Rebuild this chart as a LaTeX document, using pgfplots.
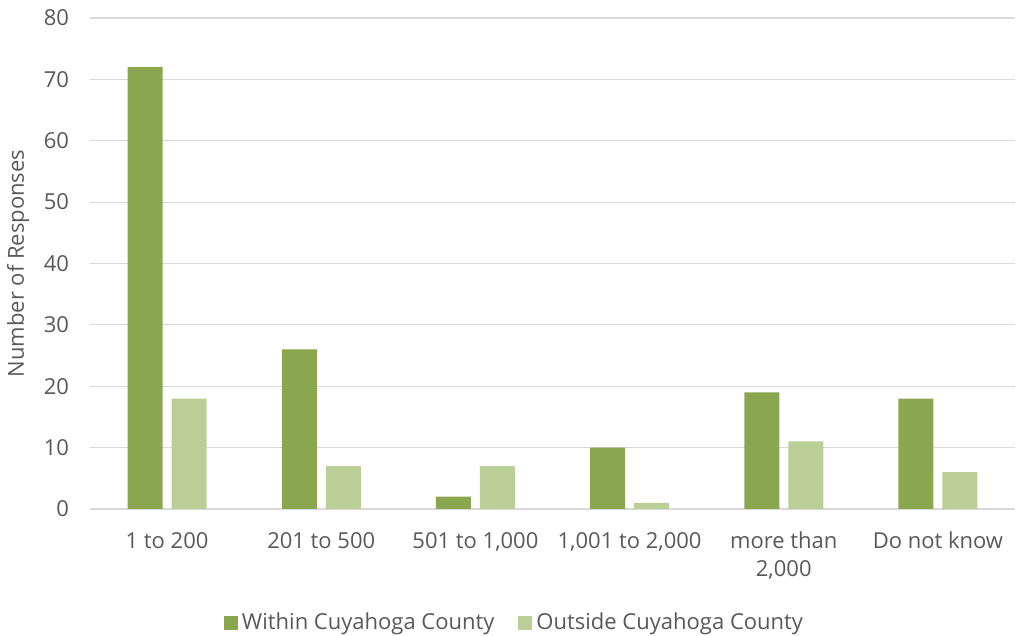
\documentclass[border=0pt]{standalone}
\usepackage{pgfplots}
\pgfplotsset{compat=1.18}
\usepackage{fontspec}
\setmainfont{Open Sans}
\definecolor{dkg}{HTML}{8AA64F}
\definecolor{ltg}{HTML}{BACF96}
\definecolor{txt}{HTML}{595959}
\definecolor{grd}{HTML}{D9D9D9}
\begin{document}
\begin{tikzpicture}
\path[use as bounding box] (-45pt,-63.5pt) rectangle (464pt,254.5pt);
\begin{axis}[
  scale only axis,
  width=462.5pt, height=245.5pt,
  at={(0,0)}, anchor=south west,
  ymin=0, ymax=80, ytick={0,10,...,80},
  xmin=-0.5, xmax=5.5,
  xtick={0,1,2,3,4,5},
  xticklabels={1 to 200,201 to 500,{501 to 1,000},{1,001 to 2,000},{more than\\2,000},Do not know},
  xticklabel style={align=center, text=txt, font=\fontsize{11}{14}\selectfont, yshift=-8pt},
  yticklabel style={text=txt, font=\fontsize{11}{13}\selectfont, xshift=-7pt},
  /pgf/number format/assume math mode=true,
  ymajorgrids, grid style={grd, line width=0.6pt},
  axis line style={draw=none},
  axis x line*=bottom,
  x axis line style={draw=grd, line width=0.8pt},
  axis y line=none,
  hide y axis=false,
  major tick length=0pt,
  ybar, bar width=17.5pt,
  ylabel={Number of Responses},
  ylabel style={text=txt, font=\fontsize{11}{13}\selectfont, at={(rel axis cs:0,0.5)}, anchor=center, yshift=36pt},
  legend style={at={(0.46,-0.232)}, anchor=center, draw=none, legend columns=2,
    font=\fontsize{11}{13}\selectfont, text=txt,
    /tikz/every even column/.append style={column sep=10pt}},
  legend image code/.code={\fill[#1] (0pt,-3.5pt) rectangle (7pt,3.5pt);},
]
\addplot[fill=dkg, draw=none, bar shift=-11pt] coordinates {(0,72) (1,26) (2,2) (3,10) (4,19) (5,18)};
\addplot[fill=ltg, draw=none, bar shift=11pt] coordinates {(0,18) (1,7) (2,7) (3,1) (4,11) (5,6)};
\legend{Within Cuyahoga County, Outside Cuyahoga County}
\end{axis}
\end{tikzpicture}
\end{document}
